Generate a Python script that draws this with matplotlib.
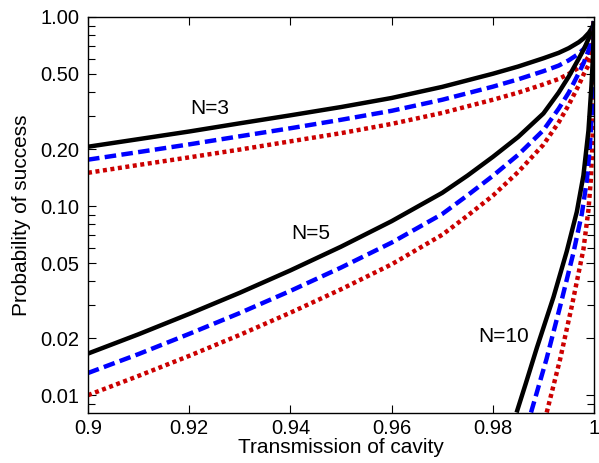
import matplotlib
matplotlib.use("Agg")
import matplotlib.pyplot as plt
from matplotlib.ticker import FixedLocator, FixedFormatter, LogLocator, NullFormatter

plt.rcParams['font.family'] = ['Liberation Sans', 'DejaVu Sans']

# N=3 curves (transmission, probability)
t3 = [0.9, 0.91, 0.92, 0.93, 0.94, 0.95, 0.96, 0.97, 0.98, 0.985, 0.99, 0.993,
      0.995, 0.997, 0.998, 0.999, 0.9995, 0.9998, 1.0]
n3_black = [0.206, 0.226, 0.248, 0.274, 0.302, 0.334, 0.373, 0.427, 0.501, 0.547, 0.605,
            0.646, 0.684, 0.736, 0.773, 0.826, 0.867, 0.90, 0.95]
n3_blue = [0.176, 0.193, 0.212, 0.234, 0.258, 0.286, 0.319, 0.365, 0.428, 0.468, 0.517,
           0.553, 0.590, 0.64, 0.68, 0.74, 0.80, 0.86, 0.95]
n3_red = [0.150, 0.165, 0.181, 0.199, 0.220, 0.243, 0.272, 0.311, 0.365, 0.398, 0.440,
          0.47, 0.50, 0.54, 0.57, 0.62, 0.67, 0.76, 0.95]

# N=5 curves
t5 = [0.9, 0.91, 0.92, 0.93, 0.94, 0.95, 0.96, 0.97, 0.975, 0.98, 0.985, 0.99, 0.993,
      0.995, 0.997, 0.998, 0.999, 0.9995, 0.9998, 1.0]
n5_black = [0.0166, 0.0210, 0.0269, 0.0348, 0.0457, 0.0610, 0.0832, 0.1175, 0.145, 0.182, 0.232,
            0.309, 0.398, 0.484, 0.603, 0.676, 0.776, 0.841, 0.891, 0.95]
n5_blue = [0.0131, 0.0165, 0.0211, 0.0272, 0.0356, 0.0473, 0.0641, 0.0908, 0.114, 0.1445, 0.1866,
           0.252, 0.327, 0.398, 0.506, 0.575, 0.676, 0.750, 0.832, 0.95]
n5_red = [0.0100, 0.01265, 0.01614, 0.02084, 0.0273, 0.0363, 0.0492, 0.0705, 0.0890, 0.1135, 0.1514,
          0.2113, 0.2767, 0.343, 0.4365, 0.501, 0.562, 0.646, 0.759, 0.95]

# N=10 curves
t10 = [0.9847, 0.9865, 0.9887, 0.9920, 0.9946, 0.9966, 0.9979, 0.9989, 0.9995, 0.9998, 1.0]
n10_black = [0.0081, 0.0115, 0.0178, 0.0331, 0.0575, 0.0933, 0.145, 0.251, 0.437, 0.631, 0.95]
t10b = [0.98755, 0.9906, 0.9933, 0.9959, 0.9976, 0.9986, 0.9992, 0.9996, 0.9999, 1.0]
n10_blue = [0.0081, 0.0155, 0.0295, 0.0562, 0.0912, 0.138, 0.209, 0.331, 0.562, 0.95]
t10r = [0.99065, 0.9933, 0.9956, 0.9979, 0.9989, 0.9994, 0.9997, 0.9999, 1.0]
n10_red = [0.0081, 0.0155, 0.0295, 0.0589, 0.0955, 0.141, 0.224, 0.398, 0.95]

y_ticks = [0.01, 0.02, 0.05, 0.1, 0.2, 0.5, 1.0]
y_labels = ["0.01", "0.02", "0.05", "0.10", "0.20", "0.50", "1.00"]
x_ticks = [0.9, 0.92, 0.94, 0.96, 0.98, 1.0]
x_labels = ["0.9", "0.92", "0.94", "0.96", "0.98", "1"]

fig = plt.figure(figsize=(5.99, 4.63), dpi=100)
ax = fig.add_axes([0.1469, 0.108, 0.9917 - 0.1469, 0.9633 - 0.108])

black = dict(color="black", lw=3.2, solid_capstyle="butt")
blue = dict(color="#0000ff", lw=3.2, dashes=(2.6, 1.2), dash_capstyle="butt")
red = dict(color="#cc0000", lw=3.2, dashes=(0.9, 0.8), dash_capstyle="butt")

for x, y, style in [(t3, n3_red, red), (t3, n3_blue, blue), (t3, n3_black, black),
                    (t5, n5_red, red), (t5, n5_blue, blue), (t5, n5_black, black),
                    (t10r, n10_red, red), (t10b, n10_blue, blue), (t10, n10_black, black)]:
    ax.plot(x, y, **style)

ax.set_yscale("log")
ax.set_xlim(0.9, 1.0)
ax.set_ylim(0.00805, 1.0)

ax.yaxis.set_major_locator(FixedLocator(y_ticks))
ax.yaxis.set_major_formatter(FixedFormatter(y_labels))
ax.yaxis.set_minor_locator(LogLocator(base=10, subs=range(2, 10)))
ax.yaxis.set_minor_formatter(NullFormatter())
ax.xaxis.set_major_locator(FixedLocator(x_ticks))
ax.xaxis.set_major_formatter(FixedFormatter(x_labels))

ax.tick_params(which="both", direction="in", top=True, right=True, labelsize=14.5)
ax.tick_params(which="major", length=6, width=0.8)
ax.tick_params(which="minor", length=5, width=0.8)
ax.tick_params(axis="y", pad=6)
ax.tick_params(axis="x", pad=4)
for s in ax.spines.values():
    s.set_linewidth(1.0)

ax.set_xlabel("Transmission of cavity", fontsize=15, labelpad=0)
ax.set_ylabel("Probability of success", fontsize=15, labelpad=7)

ax.text(0.9241, 0.327, "N=3", fontsize=15, ha="center", va="center")
ax.text(0.9441, 0.0712, "N=5", fontsize=15, ha="center", va="center")
ax.text(0.9822, 0.0204, "N=10", fontsize=15, ha="center", va="center")

fig.savefig("out.png", dpi=100)
